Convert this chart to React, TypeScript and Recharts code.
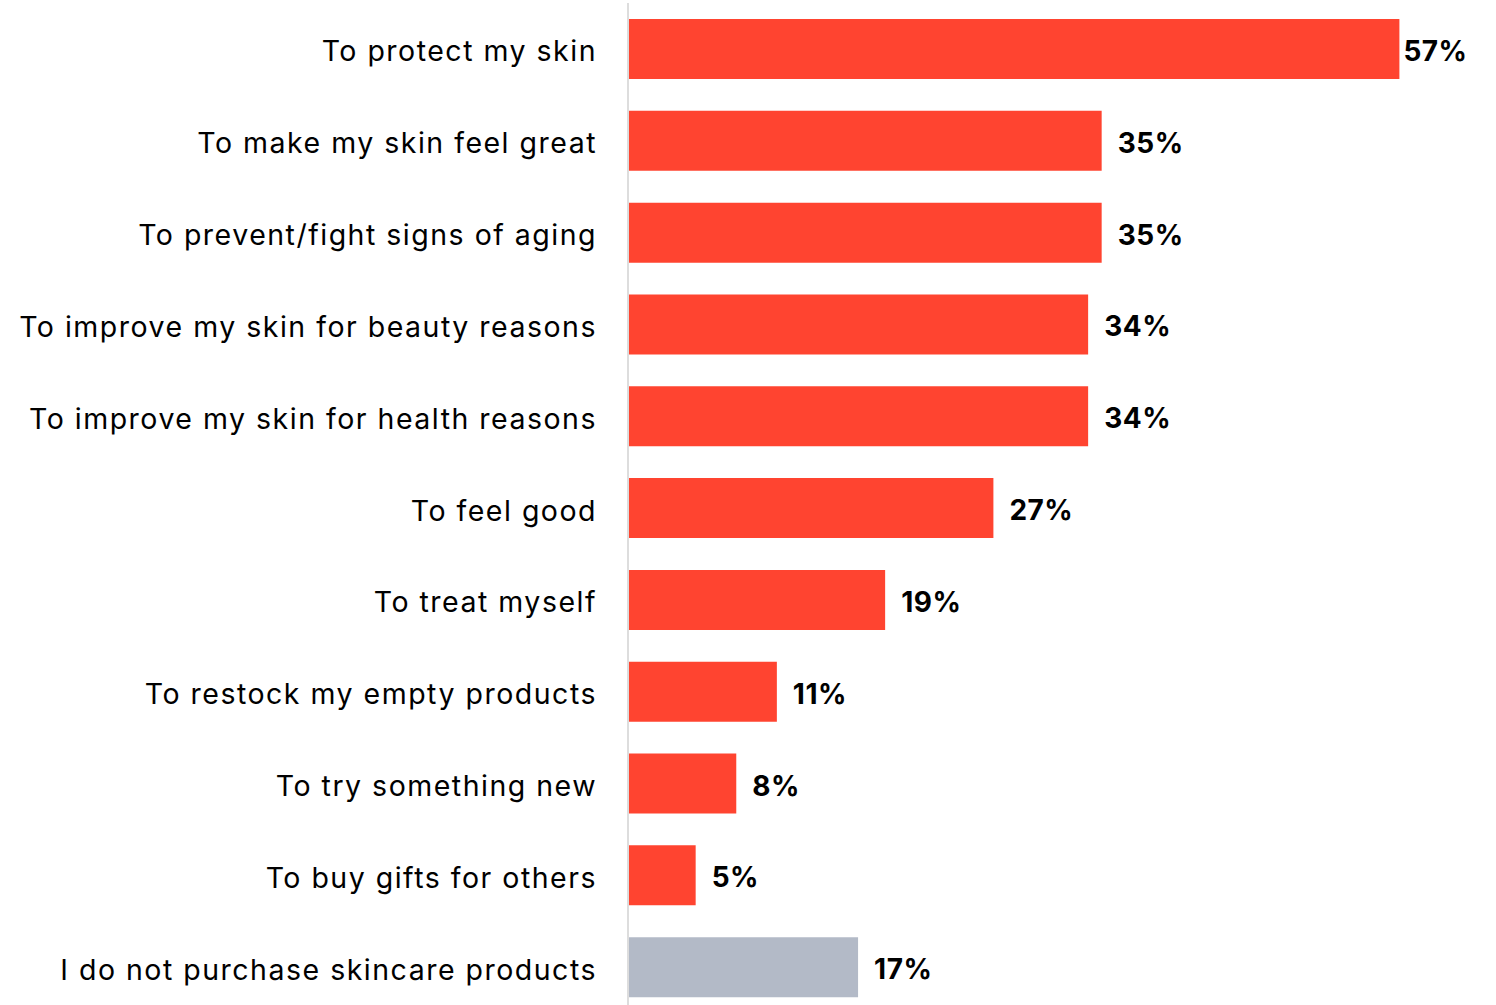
import { BarChart, Bar, XAxis, YAxis, Cell, LabelList } from "recharts";

const categories = [
  "To protect my skin",
  "To make my skin feel great",
  "To prevent/fight signs of aging",
  "To improve my skin for beauty reasons",
  "To improve my skin for health reasons",
  "To feel good",
  "To treat myself",
  "To restock my empty products",
  "To try something new",
  "To buy gifts for others",
  "I do not purchase skincare products",
];

const shares = [57, 35, 35, 34, 34, 27, 19, 11, 8, 5, 17];

const RED = "#FF4430";
const GREY = "#B3BAC7";

const data = categories.map((name, i) => ({ name, value: shares[i] }));

const FONT = "Inter, 'Noto Sans', sans-serif";

function ValueLabel(props: any) {
  const { x, y, width, height, value, index } = props;
  const gap = index === 0 ? 4 : 16;
  return (
    <text
      x={x + width + gap}
      y={y + height / 2 + 2}
      dominantBaseline="central"
      fontFamily={FONT}
      fontWeight={700}
      fontSize={28}
      letterSpacing={0.5}
      fill="#000"
    >
      {value}%
    </text>
  );
}

function CategoryTick(props: any) {
  const { x, y, payload } = props;
  return (
    <text
      x={x}
      y={y + 2}
      textAnchor="end"
      dominantBaseline="central"
      fontFamily={FONT}
      fontSize={28.5}
      letterSpacing={1.5}
      fill="#000"
    >
      {payload.value}
    </text>
  );
}

export default function App() {
  return (
    <div style={{ position: "absolute", top: 0, left: 0, background: "#fff" }}>
      <BarChart
        width={1496}
        height={1020}
        data={data}
        layout="vertical"
        margin={{ top: 3, right: 56, bottom: 7, left: 0 }}
      >
        <XAxis type="number" domain={[0, 60]} hide />
        <YAxis
          type="category"
          dataKey="name"
          width={628}
          axisLine={{ stroke: "#DDDDDD", strokeWidth: 2 }}
          tickLine={false}
          tickMargin={25}
          interval={0}
          tick={CategoryTick}
        />
        <Bar dataKey="value" barSize={60} isAnimationActive={false}>
          {data.map((d, i) => (
            <Cell key={d.name} fill={i === data.length - 1 ? GREY : RED} />
          ))}
          <LabelList dataKey="value" content={ValueLabel} />
        </Bar>
      </BarChart>
    </div>
  );
}
